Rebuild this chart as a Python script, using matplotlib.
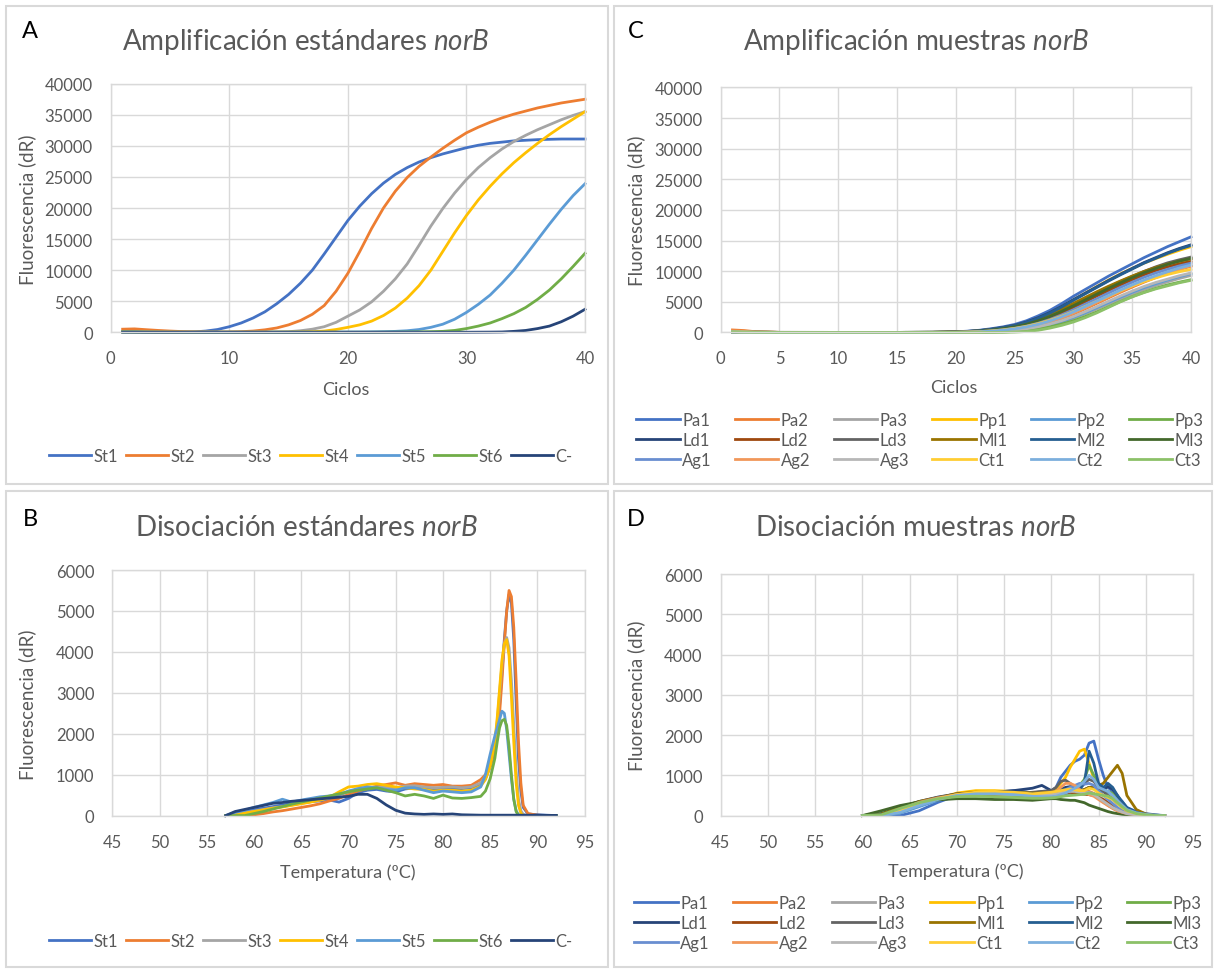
import matplotlib.pyplot as plt
from matplotlib.patches import Rectangle

# fuentes: Lato se parece a Calibri (Excel)
plt.rcParams['font.family'] = ['Lato', 'DejaVu Sans']
plt.rcParams['mathtext.fontset'] = 'custom'
plt.rcParams['mathtext.rm'] = 'Lato'
plt.rcParams['mathtext.it'] = 'Lato:italic'

GRIS = '#595959'
REJILLA = '#d9d9d9'

# ---------------- datos A: amplificación estándares ----------------
ciclos_a = list(range(1, 41))
st1_a = [150, 120, 90, 60, 40, 30, 60, 200, 450, 900,
         1500, 2300, 3300, 4600, 6100, 7900, 10000, 12600, 15300, 18000,
         20300, 22300, 24000, 25400, 26500, 27400, 28100, 28700, 29200, 29700,
         30100, 30400, 30600, 30800, 30900, 31000, 31050, 31100, 31100, 31100]
st2_a = [500, 550, 420, 300, 200, 120, 80, 50, 40, 50,
         100, 200, 400, 700, 1200, 1900, 2900, 4300, 6600, 9500,
         13000, 16700, 20000, 22700, 24900, 26700, 28200, 29600, 30900, 32100,
         33000, 33800, 34500, 35100, 35600, 36100, 36500, 36900, 37200, 37500]
st3_a = [100, 80, 60, 40, 30, 20, 20, 20, 20, 20,
         20, 30, 40, 60, 100, 250, 500, 900, 1600, 2600,
         3600, 4900, 6600, 8600, 11000, 14000, 17100, 19900, 22400, 24600,
         26500, 28100, 29500, 30700, 31700, 32600, 33400, 34200, 34900, 35500]
st4_a = [80, 60, 40, 30, 20, 10, 10, 10, 10, 10,
         10, 10, 10, 20, 30, 50, 100, 200, 450, 800,
         1200, 1800, 2700, 3900, 5500, 7500, 10000, 13000, 16000, 18800,
         21300, 23500, 25500, 27300, 28900, 30400, 31800, 33100, 34300, 35500]
st5_a = [60, 40, 30, 20, 10, 10, 10, 10, 10, 10,
         10, 10, 10, 10, 10, 10, 10, 20, 30, 40,
         50, 70, 100, 150, 250, 450, 800, 1300, 2100, 3200,
         4500, 6000, 7900, 10000, 12400, 14900, 17400, 19800, 22000, 23900]
st6_a = [40, 30, 20, 10, 10, 10, 10, 10, 10, 10,
         10, 10, 10, 10, 10, 10, 10, 10, 10, 10,
         10, 10, 20, 30, 50, 70, 100, 150, 300, 600,
         1000, 1500, 2200, 3000, 4000, 5300, 6800, 8600, 10600, 12700]
cneg_a = [20, 20, 10, 10, 10, 10, 10, 10, 10, 10,
          10, 10, 10, 10, 10, 10, 10, 10, 10, 10,
          10, 10, 10, 10, 10, 10, 10, 10, 10, 10,
          20, 30, 50, 150, 300, 600, 1000, 1700, 2600, 3700]

# ---------------- datos B: disociación estándares ----------------
temp_b = [57, 58, 59, 60, 61, 62, 63, 64, 65, 66, 67, 68, 69, 70, 71, 72, 73, 74,
          75, 76, 77, 78, 79, 80, 81, 82, 83, 84, 84.5, 85,
          85.5, 85.75, 86, 86.25, 86.5, 86.75, 87, 87.25, 87.5, 87.75, 88, 88.25, 88.5,
          89, 90, 91, 92]
st1_b = [0, 60, 100, 150, 180, 220, 260, 290, 320, 340, 360, 380, 330, 420, 560, 620, 640, 600,
         580, 650, 680, 660, 640, 650, 640, 660, 680, 760, 900, 1200,
         1700, 2100, 2700, 3500, 4300, 5000, 5400, 5200, 4300, 2800, 1400, 600, 200,
         40, 20, 10, 0]
st2_b = [0, 0, 0, 20, 50, 90, 120, 160, 200, 240, 290, 360, 420, 520, 600, 660, 720, 760,
         800, 740, 780, 760, 740, 760, 720, 720, 740, 880, 1000, 1200,
         1600, 1950, 2500, 3300, 4200, 5000, 5500, 5350, 4600, 3300, 1800, 800, 250,
         50, 10, 0, 0]
st3_b = [0, 30, 70, 110, 150, 190, 220, 260, 300, 340, 380, 430, 500, 580, 640, 680, 700, 690,
         680, 720, 730, 700, 680, 690, 700, 680, 700, 800, 950, 1250,
         1800, 2300, 3000, 3700, 4200, 4350, 4100, 3300, 2200, 1100, 400, 120, 30,
         0, 0, 0, 0]
st4_b = [0, 20, 60, 100, 140, 180, 210, 250, 290, 330, 380, 450, 580, 700, 720, 760, 780, 740,
         700, 680, 650, 640, 600, 620, 620, 600, 620, 720, 880, 1200,
         1800, 2400, 3100, 3800, 4200, 4300, 3900, 2900, 1800, 800, 250, 60, 0,
         0, 0, 0, 0]
st5_b = [0, 80, 130, 200, 260, 320, 400, 330, 380, 420, 460, 480, 520, 600, 660, 700, 680, 640,
         620, 680, 680, 620, 560, 600, 580, 560, 580, 700, 1000, 1500,
         1950, 2150, 2350, 2550, 2500, 2100, 1500, 900, 400, 120, 20, 0, 0,
         0, 0, 0, 0]
st6_b = [0, 0, 0, 50, 100, 160, 220, 280, 330, 380, 430, 480, 530, 580, 620, 650, 680, 620,
         560, 480, 520, 480, 420, 500, 430, 420, 440, 470, 600, 900,
         1400, 1800, 2150, 2320, 2350, 2200, 1700, 1000, 400, 100, 0, 0, 0,
         0, 0, 0, 0]
cneg_b = [0, 100, 150, 200, 250, 300, 320, 350, 370, 390, 410, 430, 450, 470, 520, 520, 420, 260,
          130, 60, 40, 30, 40, 30, 40, 20, 15, 10, 10, 10,
          10, 10, 10, 10, 10, 10, 10, 10, 10, 10, 10, 10, 10,
          10, 10, 5, 5]

# ---------------- datos C: amplificación muestras ----------------
ciclos_c = [1, 2, 3, 5, 10, 15, 18, 19, 20, 21, 22, 23, 24, 25, 26, 27, 28, 29, 30,
            31, 32, 33, 34, 35, 36, 37, 38, 39, 40]
pa1_c = [150, 80, 30, 10, 0, 0, 20, 50, 100, 200, 350, 600, 900, 1300, 1900, 2700, 3600, 4700, 5900,
         7000, 8100, 9200, 10200, 11200, 12200, 13100, 14000, 14800, 15600]
pa2_c = [400, 300, 100, 10, 0, 0, 0, 0, 0, 20, 60, 140, 270, 460, 740, 1120, 1620, 2250, 3000,
         3850, 4750, 5650, 6550, 7400, 8200, 8950, 9650, 10250, 10800]
pa3_c = [120, 60, 20, 0, 0, 0, 0, 0, 0, 0, 20, 60, 140, 270, 460, 750, 1150, 1680, 2300,
         3020, 3820, 4650, 5480, 6280, 7000, 7650, 8250, 8800, 9300]
pp1_c = [100, 60, 20, 0, 0, 0, 10, 30, 50, 130, 250, 450, 720, 1080, 1600, 2300, 3150, 4150, 5300,
         6400, 7500, 8550, 9550, 10450, 11300, 12050, 12750, 13400, 14000]
pp2_c = [80, 40, 10, 0, 0, 0, 0, 0, 0, 10, 30, 80, 170, 310, 520, 830, 1250, 1800, 2450,
         3200, 4050, 4900, 5750, 6550, 7300, 7950, 8550, 9100, 9600]
pp3_c = [100, 50, 20, 0, 0, 0, 0, 0, 0, 0, 0, 20, 70, 160, 320, 560, 900, 1350, 1900,
         2580, 3350, 4200, 5050, 5850, 6550, 7200, 7750, 8200, 8600]
ld1_c = [100, 50, 20, 0, 0, 0, 20, 40, 80, 170, 300, 520, 800, 1150, 1700, 2400, 3250, 4250, 5350,
         6400, 7450, 8500, 9500, 10450, 11400, 12200, 13000, 13700, 14300]
ld2_c = [90, 40, 10, 0, 0, 0, 0, 10, 30, 90, 180, 320, 530, 820, 1200, 1750, 2400, 3200, 4100,
         5000, 5950, 6850, 7750, 8600, 9400, 10100, 10700, 11200, 11600]
ld3_c = [110, 60, 20, 0, 0, 0, 10, 30, 50, 120, 230, 400, 650, 950, 1400, 2000, 2750, 3600, 4550,
         5500, 6450, 7400, 8300, 9150, 9950, 10700, 11350, 11850, 12300]
ml1_c = [130, 70, 20, 0, 0, 0, 20, 40, 60, 140, 260, 450, 700, 1050, 1500, 2150, 2900, 3800, 4750,
         5700, 6650, 7550, 8400, 9200, 9950, 10600, 11150, 11600, 12000]
ml2_c = [100, 50, 20, 0, 0, 0, 10, 30, 60, 150, 280, 480, 760, 1100, 1620, 2300, 3150, 4150, 5250,
         6300, 7350, 8400, 9400, 10350, 11300, 12100, 12900, 13600, 14200]
ml3_c = [90, 40, 10, 0, 0, 0, 10, 20, 40, 100, 200, 360, 600, 900, 1330, 1900, 2600, 3450, 4350,
         5300, 6250, 7200, 8100, 8950, 9750, 10450, 11100, 11650, 12100]
ag1_c = [110, 50, 20, 0, 0, 0, 0, 10, 20, 60, 130, 250, 430, 680, 1030, 1500, 2100, 2850, 3700,
         4600, 5500, 6450, 7350, 8200, 9000, 9700, 10300, 10850, 11300]
ag2_c = [250, 150, 50, 0, 0, 0, 0, 0, 10, 30, 80, 170, 310, 520, 820, 1230, 1750, 2400, 3150,
         4000, 4900, 5800, 6700, 7550, 8350, 9050, 9700, 10300, 10900]
ag3_c = [100, 50, 10, 0, 0, 0, 0, 0, 0, 10, 40, 100, 200, 360, 590, 920, 1360, 1920, 2600,
         3380, 4230, 5100, 5950, 6750, 7500, 8150, 8700, 9250, 9700]
ct1_c = [120, 60, 20, 0, 0, 0, 0, 10, 20, 60, 130, 240, 400, 640, 980, 1420, 1980, 2650, 3400,
         4250, 5100, 5950, 6800, 7600, 8300, 8900, 9450, 9900, 10300]
ct2_c = [90, 40, 10, 0, 0, 0, 0, 0, 10, 40, 100, 200, 350, 580, 900, 1320, 1880, 2550, 3350,
         4200, 5100, 6000, 6900, 7750, 8550, 9250, 9900, 10500, 11000]
ct3_c = [80, 40, 10, 0, 0, 0, 0, 0, 0, 0, 0, 0, 0, 50, 150, 350, 700, 1150, 1700,
         2400, 3200, 4100, 5000, 5800, 6500, 7100, 7600, 8100, 8500]

# ---------------- datos D: disociación muestras ----------------
temp_d = [60, 62, 64, 66, 68, 70, 72, 74, 76, 77, 78, 79, 80,
          80.5, 81, 81.5, 82, 82.5, 83, 83.5, 84, 84.5, 85, 85.5, 86, 86.5, 87, 87.5, 88,
          89, 90, 91, 92]
pa1_d = [0, 0, 0, 120, 330, 500, 560, 580, 620, 600, 560, 600, 620,
         700, 950, 1100, 1250, 1350, 1400, 1500, 1800, 1850, 1400, 1000, 700, 600, 450, 350, 200,
         100, 50, 20, 0]
pa2_d = [0, 0, 150, 330, 430, 520, 560, 540, 520, 540, 520, 530, 540,
         560, 600, 650, 700, 700, 650, 600, 600, 550, 450, 350, 250, 180, 120, 80, 50,
         20, 10, 0, 0]
pa3_d = [0, 0, 100, 280, 420, 500, 540, 560, 560, 540, 520, 540, 560,
         580, 600, 620, 640, 620, 600, 580, 580, 550, 480, 400, 300, 220, 150, 100, 60,
         30, 10, 0, 0]
pp1_d = [0, 0, 80, 250, 420, 560, 620, 620, 600, 580, 560, 580, 600,
         650, 800, 950, 1200, 1400, 1600, 1650, 1300, 900, 600, 500, 480, 450, 350, 250, 150,
         60, 20, 0, 0]
pp2_d = [0, 0, 60, 220, 380, 480, 520, 520, 500, 480, 460, 440, 420,
         440, 480, 520, 560, 600, 620, 640, 700, 680, 600, 600, 580, 500, 380, 250, 150,
         60, 30, 10, 0]
pp3_d = [0, 0, 120, 300, 420, 480, 500, 480, 460, 450, 440, 440, 450,
         470, 500, 560, 600, 650, 750, 900, 1250, 1000, 800, 650, 600, 550, 450, 300, 150,
         60, 20, 0, 0]
ld1_d = [0, 50, 200, 350, 460, 540, 560, 580, 620, 650, 680, 750, 620,
         600, 650, 700, 720, 650, 620, 640, 700, 700, 680, 650, 720, 650, 500, 300, 150,
         60, 20, 0, 0]
ld2_d = [0, 0, 150, 320, 430, 500, 520, 520, 520, 510, 500, 500, 510,
         520, 540, 560, 580, 560, 540, 530, 520, 500, 450, 400, 320, 250, 170, 100, 60,
         20, 0, 0, 0]
ld3_d = [0, 30, 180, 330, 440, 520, 560, 560, 560, 560, 580, 600, 620,
         700, 850, 880, 800, 700, 700, 800, 900, 850, 700, 600, 500, 400, 300, 200, 100,
         40, 10, 0, 0]
ml1_d = [0, 40, 200, 350, 450, 540, 580, 560, 560, 560, 560, 560, 580,
         600, 620, 650, 650, 620, 620, 650, 700, 700, 750, 800, 950, 1100, 1250, 1050, 500,
         150, 40, 10, 0]
ml2_d = [0, 20, 150, 320, 440, 520, 560, 560, 560, 560, 540, 540, 560,
         580, 620, 650, 700, 700, 650, 800, 1600, 1300, 800, 700, 800, 700, 500, 350, 200,
         80, 30, 10, 0]
ml3_d = [0, 120, 250, 340, 390, 420, 420, 400, 400, 390, 380, 400, 420,
         420, 400, 390, 380, 380, 350, 320, 260, 220, 180, 140, 100, 70, 50, 30, 20,
         10, 0, 0, 0]
ag1_d = [0, 0, 100, 280, 420, 520, 560, 560, 540, 530, 520, 520, 540,
         560, 600, 640, 700, 750, 800, 780, 800, 750, 600, 500, 400, 300, 200, 120, 70,
         30, 10, 0, 0]
ag2_d = [0, 0, 150, 330, 440, 520, 560, 540, 520, 520, 520, 540, 560,
         600, 700, 800, 800, 750, 650, 580, 520, 480, 400, 320, 250, 180, 120, 80, 50,
         20, 0, 0, 0]
ag3_d = [0, 0, 120, 300, 420, 500, 540, 540, 520, 520, 500, 500, 520,
         540, 560, 580, 600, 600, 580, 560, 560, 520, 440, 360, 280, 200, 140, 90, 50,
         20, 0, 0, 0]
ct1_d = [0, 0, 100, 270, 420, 520, 580, 600, 580, 560, 540, 560, 580,
         600, 620, 640, 660, 640, 620, 620, 680, 650, 560, 500, 450, 400, 300, 200, 120,
         50, 20, 0, 0]
ct2_d = [0, 0, 80, 250, 400, 500, 540, 540, 520, 500, 480, 470, 470,
         480, 520, 560, 620, 680, 750, 850, 1000, 900, 700, 650, 600, 500, 380, 260, 150,
         70, 30, 10, 0]
ct3_d = [0, 20, 180, 320, 420, 470, 480, 470, 450, 440, 430, 430, 440,
         450, 470, 490, 500, 510, 520, 530, 560, 540, 520, 500, 480, 420, 320, 220, 130,
         50, 20, 0, 0]

nombres_st = ['St1', 'St2', 'St3', 'St4', 'St5', 'St6', 'C-']
nombres_m = ['Pa1', 'Pa2', 'Pa3', 'Pp1', 'Pp2', 'Pp3', 'Ld1', 'Ld2', 'Ld3',
             'Ml1', 'Ml2', 'Ml3', 'Ag1', 'Ag2', 'Ag3', 'Ct1', 'Ct2', 'Ct3']
# paleta por defecto de Excel
colores = ['#4472C4', '#ED7D31', '#A5A5A5', '#FFC000', '#5B9BD5', '#70AD47',
           '#264478', '#9E480E', '#636363', '#997300', '#255E91', '#43682B',
           '#698ED0', '#F1975A', '#B7B7B7', '#FFCD33', '#7CAFDD', '#8CC168']

serie_a = [st1_a, st2_a, st3_a, st4_a, st5_a, st6_a, cneg_a]
serie_b = [st1_b, st2_b, st3_b, st4_b, st5_b, st6_b, cneg_b]
serie_c = [pa1_c, pa2_c, pa3_c, pp1_c, pp2_c, pp3_c, ld1_c, ld2_c, ld3_c,
           ml1_c, ml2_c, ml3_c, ag1_c, ag2_c, ag3_c, ct1_c, ct2_c, ct3_c]
serie_d = [pa1_d, pa2_d, pa3_d, pp1_d, pp2_d, pp3_d, ld1_d, ld2_d, ld3_d,
           ml1_d, ml2_d, ml3_d, ag1_d, ag2_d, ag3_d, ct1_d, ct2_d, ct3_d]

W, H = 1215, 970
fig = plt.figure(figsize=(W / 100, H / 100), dpi=100)


def fx(px):
    return px / W


def fy(py):
    return 1 - py / H


def caja(x0, y0, x1, y1):
    # marco gris de cada gráfico
    fig.patches.append(Rectangle((fx(x0), fy(y1)), fx(x1) - fx(x0), fy(y0) - fy(y1),
                                 transform=fig.transFigure, fill=False,
                                 edgecolor=REJILLA, lw=1.5))


def panel(x0, y0, x1, y1, x, series, nombres, xlim, xticks, ylim, yticks):
    ax = fig.add_axes([fx(x0), fy(y1), fx(x1) - fx(x0), fy(y0) - fy(y1)])
    lineas = []
    for datos, nombre, col in zip(series, nombres, colores):
        l, = ax.plot(x, datos, color=col, lw=2.0, clip_on=False, label=nombre)
        lineas.append(l)
    ax.set_xlim(*xlim)
    ax.set_ylim(*ylim)
    ax.set_xticks(xticks)
    ax.set_yticks(yticks)
    ax.grid(True, color=REJILLA, lw=1.0)
    ax.set_axisbelow(True)
    for s in ax.spines.values():
        s.set_color(REJILLA)
        s.set_linewidth(1.0)
    ax.tick_params(length=0, labelsize=12, labelcolor=GRIS)
    ax.tick_params(axis='y', pad=13)
    ax.tick_params(axis='x', pad=13)
    return lineas


def textos(letra, titulo, xlab, ly, lx, tx, ty, xl_x, xl_y, yl_x, yl_y):
    fig.text(fx(lx), fy(ly), letra, fontsize=17, color='black', ha='center', va='center')
    fig.text(fx(tx), fy(ty), titulo, fontsize=20, color=GRIS, ha='center', va='center')
    fig.text(fx(xl_x), fy(xl_y), xlab, fontsize=13, color=GRIS, ha='center', va='center')
    fig.text(fx(yl_x), fy(yl_y), 'Fluorescencia (dR)', fontsize=13.5, color=GRIS,
             ha='center', va='center', rotation=90)


# marcos
caja(6, 7, 608, 485)
caja(614, 7, 1212, 485)
caja(6, 492, 608, 968)
caja(614, 492, 1212, 968)

# A
la = panel(110.8, 84.7, 585, 333.3, ciclos_a, serie_a, nombres_st,
           (0, 40), range(0, 41, 10), (0, 40000), range(0, 40001, 5000))
textos('A', r'Amplificación estándares $\mathit{norB}$', 'Ciclos',
       32, 30, 306, 42, 346, 390, 27, 210)
fig.legend(la, nombres_st, loc='center', bbox_to_anchor=(fx(311), fy(457)), ncol=7,
           frameon=False, fontsize=12, labelcolor=GRIS, handlelength=2.5,
           handletextpad=0.15, columnspacing=0.5)

# C
lc = panel(720.7, 88.4, 1191, 333.4, ciclos_c, serie_c, nombres_m,
           (0, 40), range(0, 41, 5), (0, 40000), range(0, 40001, 5000))
textos('C', r'Amplificación muestras $\mathit{norB}$', 'Ciclos',
       32, 636, 916, 42, 954, 388, 636, 211)
# Excel ordena la leyenda por filas
orden = [r * 6 + c for c in range(6) for r in range(3)]
fig.legend([lc[i] for i in orden], [nombres_m[i] for i in orden], loc='center',
           bbox_to_anchor=(fx(920), fy(441)), ncol=6, frameon=False, fontsize=12,
           labelcolor=GRIS, handlelength=2.6, handletextpad=0.15, columnspacing=1.4,
           labelspacing=0.25)

# B
lb = panel(112.4, 571, 584.6, 816.6, temp_b, serie_b, nombres_st,
           (45, 95), range(45, 96, 5), (0, 6000), range(0, 6001, 1000))
textos('B', r'Disociación estándares $\mathit{norB}$', 'Temperatura (ºC)',
       520, 30, 306, 528, 348, 873, 27, 705)
fig.legend(lb, nombres_st, loc='center', bbox_to_anchor=(fx(311), fy(942)), ncol=7,
           frameon=False, fontsize=12, labelcolor=GRIS, handlelength=2.5,
           handletextpad=0.15, columnspacing=0.5)

# D
ld = panel(720.7, 575, 1193, 816.6, temp_d, serie_d, nombres_m,
           (45, 95), range(45, 96, 5), (0, 6000), range(0, 6001, 1000))
textos('D', r'Disociación muestras $\mathit{norB}$', 'Temperatura (ºC)',
       520, 636, 916, 528, 956, 872, 636, 696)
fig.legend([ld[i] for i in orden], [nombres_m[i] for i in orden], loc='center',
           bbox_to_anchor=(fx(918), fy(924)), ncol=6, frameon=False, fontsize=12,
           labelcolor=GRIS, handlelength=2.6, handletextpad=0.15, columnspacing=1.4,
           labelspacing=0.25)

fig.savefig('out.png', dpi=100, facecolor='white')
